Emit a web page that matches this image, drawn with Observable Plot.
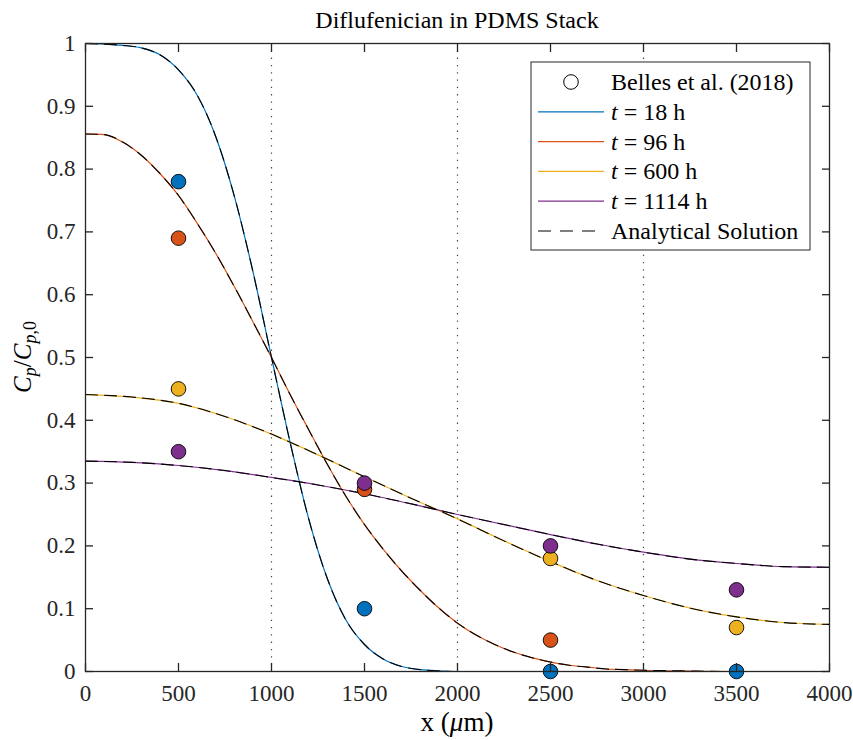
<!DOCTYPE html>
<html>
<head>
<meta charset="utf-8">
<script src="https://cdn.jsdelivr.net/npm/d3@7"></script>
<script src="https://cdn.jsdelivr.net/npm/@observablehq/plot@0.6"></script>
<style>
  body { margin: 0; background: #fff; }
  #chart { position: relative; width: 853px; height: 740px; }
  #chart svg { display: block; }
</style>
</head>
<body>
<div id="chart"></div>
<script>
// Diffusion of diflufenican through a stack of four PDMS layers (1000 µm each)

const seriesNames = ["t = 18 h", "t = 96 h", "t = 600 h", "t = 1114 h"];
const seriesColors = ["#0072BD", "#D95319", "#EDB120", "#7E2F8E"];
const layerBoundaries = [1000, 2000, 3000];

// Simulated concentration profiles, C_p / C_p,0 against depth x (µm)
const x18 = [0, 100, 200, 300, 400, 500, 600, 700, 800, 900, 1000, 1100, 1200, 1300, 1400,
             1500, 1600, 1700, 1800, 1900, 2000, 2500, 3000, 3500, 4000];
const c18 = [1.000, 0.999, 0.997, 0.993, 0.982, 0.958, 0.918, 0.852, 0.757, 0.637, 0.500, 0.365,
             0.243, 0.148, 0.082, 0.043, 0.020, 0.008, 0.003, 0.001, 0, 0, 0, 0, 0];

const x96 = [0, 100, 200, 300, 400, 500, 600, 700, 800, 900, 1000, 1100, 1200, 1300, 1400,
             1500, 1600, 1700, 1800, 1900, 2000, 2100, 2200, 2300, 2400, 2500, 2600, 2700,
             2800, 2900, 3000, 3200, 3500, 4000];
const c96 = [0.856, 0.855, 0.843, 0.822, 0.793, 0.758, 0.714, 0.666, 0.613, 0.557, 0.500, 0.441,
             0.385, 0.330, 0.279, 0.234, 0.195, 0.160, 0.129, 0.101, 0.077, 0.058, 0.043, 0.031,
             0.022, 0.015, 0.010, 0.007, 0.004, 0.003, 0.002, 0.001, 0, 0];

const x600 = [0, 250, 500, 750, 1000, 1250, 1500, 1750, 2000, 2250, 2500, 2750, 3000, 3250,
              3500, 3750, 4000];
const c600 = [0.441, 0.437, 0.427, 0.406, 0.378, 0.345, 0.310, 0.276, 0.243, 0.208, 0.175,
              0.145, 0.121, 0.101, 0.087, 0.078, 0.075];

const x1114 = [0, 250, 500, 750, 1000, 1250, 1500, 1750, 2000, 2250, 2500, 2750, 3000, 3250,
               3500, 3750, 4000];
const c1114 = [0.335, 0.333, 0.328, 0.320, 0.309, 0.297, 0.283, 0.267, 0.250, 0.234, 0.218,
               0.203, 0.190, 0.179, 0.172, 0.167, 0.166];

// Measured profiles, Belles et al. (2018); null where no sample is shown
const measX = [500, 1500, 2500, 3500];
const meas18 = [0.78, 0.10, 0.00, 0.00];
const meas96 = [0.69, 0.29, 0.05, null];
const meas600 = [0.45, null, 0.18, 0.07];
const meas1114 = [0.35, 0.30, 0.20, 0.13];

// Axis ticks
const xTicks = [0, 500, 1000, 1500, 2000, 2500, 3000, 3500, 4000];
const yTicks = [0, 0.1, 0.2, 0.3, 0.4, 0.5, 0.6, 0.7, 0.8, 0.9, 1];
const yTickLabels = ["0", "0.1", "0.2", "0.3", "0.4", "0.5", "0.6", "0.7", "0.8", "0.9", "1"];

// Tidy tables
const profileX = [x18, x96, x600, x1114];
const profileC = [c18, c96, c600, c1114];
const profiles = seriesNames.flatMap((s, k) =>
  profileX[k].map((x, i) => ({series: s, x, c: profileC[k][i]})));
const measC = [meas18, meas96, meas600, meas1114];
const measured = seriesNames.flatMap((s, k) =>
  measX.map((x, i) => ({series: s, x, c: measC[k][i]})).filter(d => d.c != null));

const FONT = "'Liberation Serif', 'Times New Roman', serif";
const INK = "#262626";

const W = 853, H = 740;
const M = {left: 85, right: 24, top: 43, bottom: 69};

const chart = Plot.plot({
  width: W,
  height: H,
  marginLeft: M.left,
  marginRight: M.right,
  marginTop: M.top,
  marginBottom: M.bottom,
  style: {fontFamily: FONT, fontSize: "23px", color: INK, background: "#fff"},
  x: {domain: [0, 4000]},
  y: {domain: [0, 1]},
  color: {domain: seriesNames, range: seriesColors},
  marks: [
    // layer interfaces
    Plot.ruleX(layerBoundaries, {stroke: "#444", strokeWidth: 1.2, strokeDasharray: "1.3,6"}),
    // numerical solution
    Plot.line(profiles, {x: "x", y: "c", z: "series", stroke: "series", strokeWidth: 1.2, curve: "monotone-x"}),
    // analytical solution
    Plot.line(profiles, {x: "x", y: "c", z: "series", stroke: "#000", strokeWidth: 1.1,
                         strokeDasharray: "12,7", curve: "monotone-x"}),
    // experimental data
    Plot.dot(measured, {x: "x", y: "c", fill: "series", stroke: "#000", strokeWidth: 0.9, r: 7.3}),
    // tick labels
    Plot.axisX(xTicks, {anchor: "bottom", tickSize: 0, tickPadding: 13, fontSize: 23, label: null,
                        tickFormat: d => String(d)}),
    Plot.axisY(yTicks, {anchor: "left", tickSize: 0, tickPadding: 10, fontSize: 23, label: null,
                        tickFormat: (d, i) => yTickLabels[i]}),
    // inward tick marks on all four sides
    Plot.axisX(xTicks, {anchor: "bottom", tickSize: -8, fill: "none", label: null, stroke: INK, strokeWidth: 1.3}),
    Plot.axisX(xTicks, {anchor: "top", tickSize: -8, fill: "none", label: null, stroke: INK, strokeWidth: 1.3}),
    Plot.axisY(yTicks, {anchor: "left", tickSize: -8, fill: "none", label: null, stroke: INK, strokeWidth: 1.3}),
    Plot.axisY(yTicks, {anchor: "right", tickSize: -8, fill: "none", label: null, stroke: INK, strokeWidth: 1.3}),
    Plot.frame({stroke: INK, strokeWidth: 1.3})
  ]
});

document.getElementById("chart").appendChild(chart);

const svg = d3.select(chart);
const cx = (M.left + W - M.right) / 2;

// Title
svg.append("text")
  .attr("x", cx).attr("y", 28)
  .attr("text-anchor", "middle")
  .attr("font-family", FONT).attr("font-size", 24).attr("fill", "#000")
  .text("Diflufenician in PDMS Stack");

// x-axis label: x (µm)
const xl = svg.append("text")
  .attr("x", cx).attr("y", 731)
  .attr("text-anchor", "middle")
  .attr("font-family", FONT).attr("font-size", 27).attr("fill", "#000");
xl.append("tspan").text("x (");
xl.append("tspan").attr("font-style", "italic").text("\u03BC");
xl.append("tspan").text("m)");

// y-axis label: C_p / C_p,0
const yl = svg.append("text")
  .attr("transform", `translate(31,${(M.top + H - M.bottom) / 2}) rotate(-90)`)
  .attr("text-anchor", "middle")
  .attr("font-family", FONT).attr("font-size", 25).attr("fill", "#000");
yl.append("tspan").attr("font-style", "italic").text("C");
yl.append("tspan").attr("font-style", "italic").attr("font-size", 18).attr("dy", 5).text("p");
yl.append("tspan").attr("dy", -5).text("/");
yl.append("tspan").attr("font-style", "italic").text("C");
yl.append("tspan").attr("font-style", "italic").attr("font-size", 18).attr("dy", 5).text("p");
yl.append("tspan").attr("font-size", 18).text(",0");

// Legend
const lg = svg.append("g")
  .attr("font-family", FONT).attr("font-size", 24).attr("fill", "#000")
  .attr("text-anchor", "start");
const LX = 531, LY = 62, LW = 279, LH = 188, rowH = 29.8, row0 = 82;
lg.append("rect").attr("x", LX).attr("y", LY).attr("width", LW).attr("height", LH)
  .attr("fill", "#fff").attr("stroke", INK).attr("stroke-width", 1);
const lineX1 = 538, lineX2 = 604, textX = 611;

lg.append("circle").attr("cx", (lineX1 + lineX2) / 2).attr("cy", row0).attr("r", 7.3)
  .attr("fill", "#fff").attr("stroke", "#000").attr("stroke-width", 1);
lg.append("text").attr("x", textX).attr("y", row0).attr("dy", "0.33em")
  .attr("text-anchor", "start").text("Belles et al. (2018)");

seriesNames.forEach((name, k) => {
  const y = row0 + rowH * (k + 1);
  lg.append("line").attr("x1", lineX1).attr("x2", lineX2).attr("y1", y).attr("y2", y)
    .attr("stroke", seriesColors[k]).attr("stroke-width", 1.2);
  const t = lg.append("text").attr("x", textX).attr("y", y).attr("dy", "0.33em")
    .attr("text-anchor", "start");
  const [tv, ...rest] = name.split(" ");
  t.append("tspan").attr("font-style", "italic").text(tv);
  t.append("tspan").text(" " + rest.join(" "));
});

const yA = row0 + rowH * 5;
lg.append("line").attr("x1", lineX1).attr("x2", lineX2).attr("y1", yA).attr("y2", yA)
  .attr("stroke", "#000").attr("stroke-width", 1.1).attr("stroke-dasharray", "13,9");
lg.append("text").attr("x", textX).attr("y", yA).attr("dy", "0.33em")
  .attr("text-anchor", "start").text("Analytical Solution");
</script>
</body>
</html>
